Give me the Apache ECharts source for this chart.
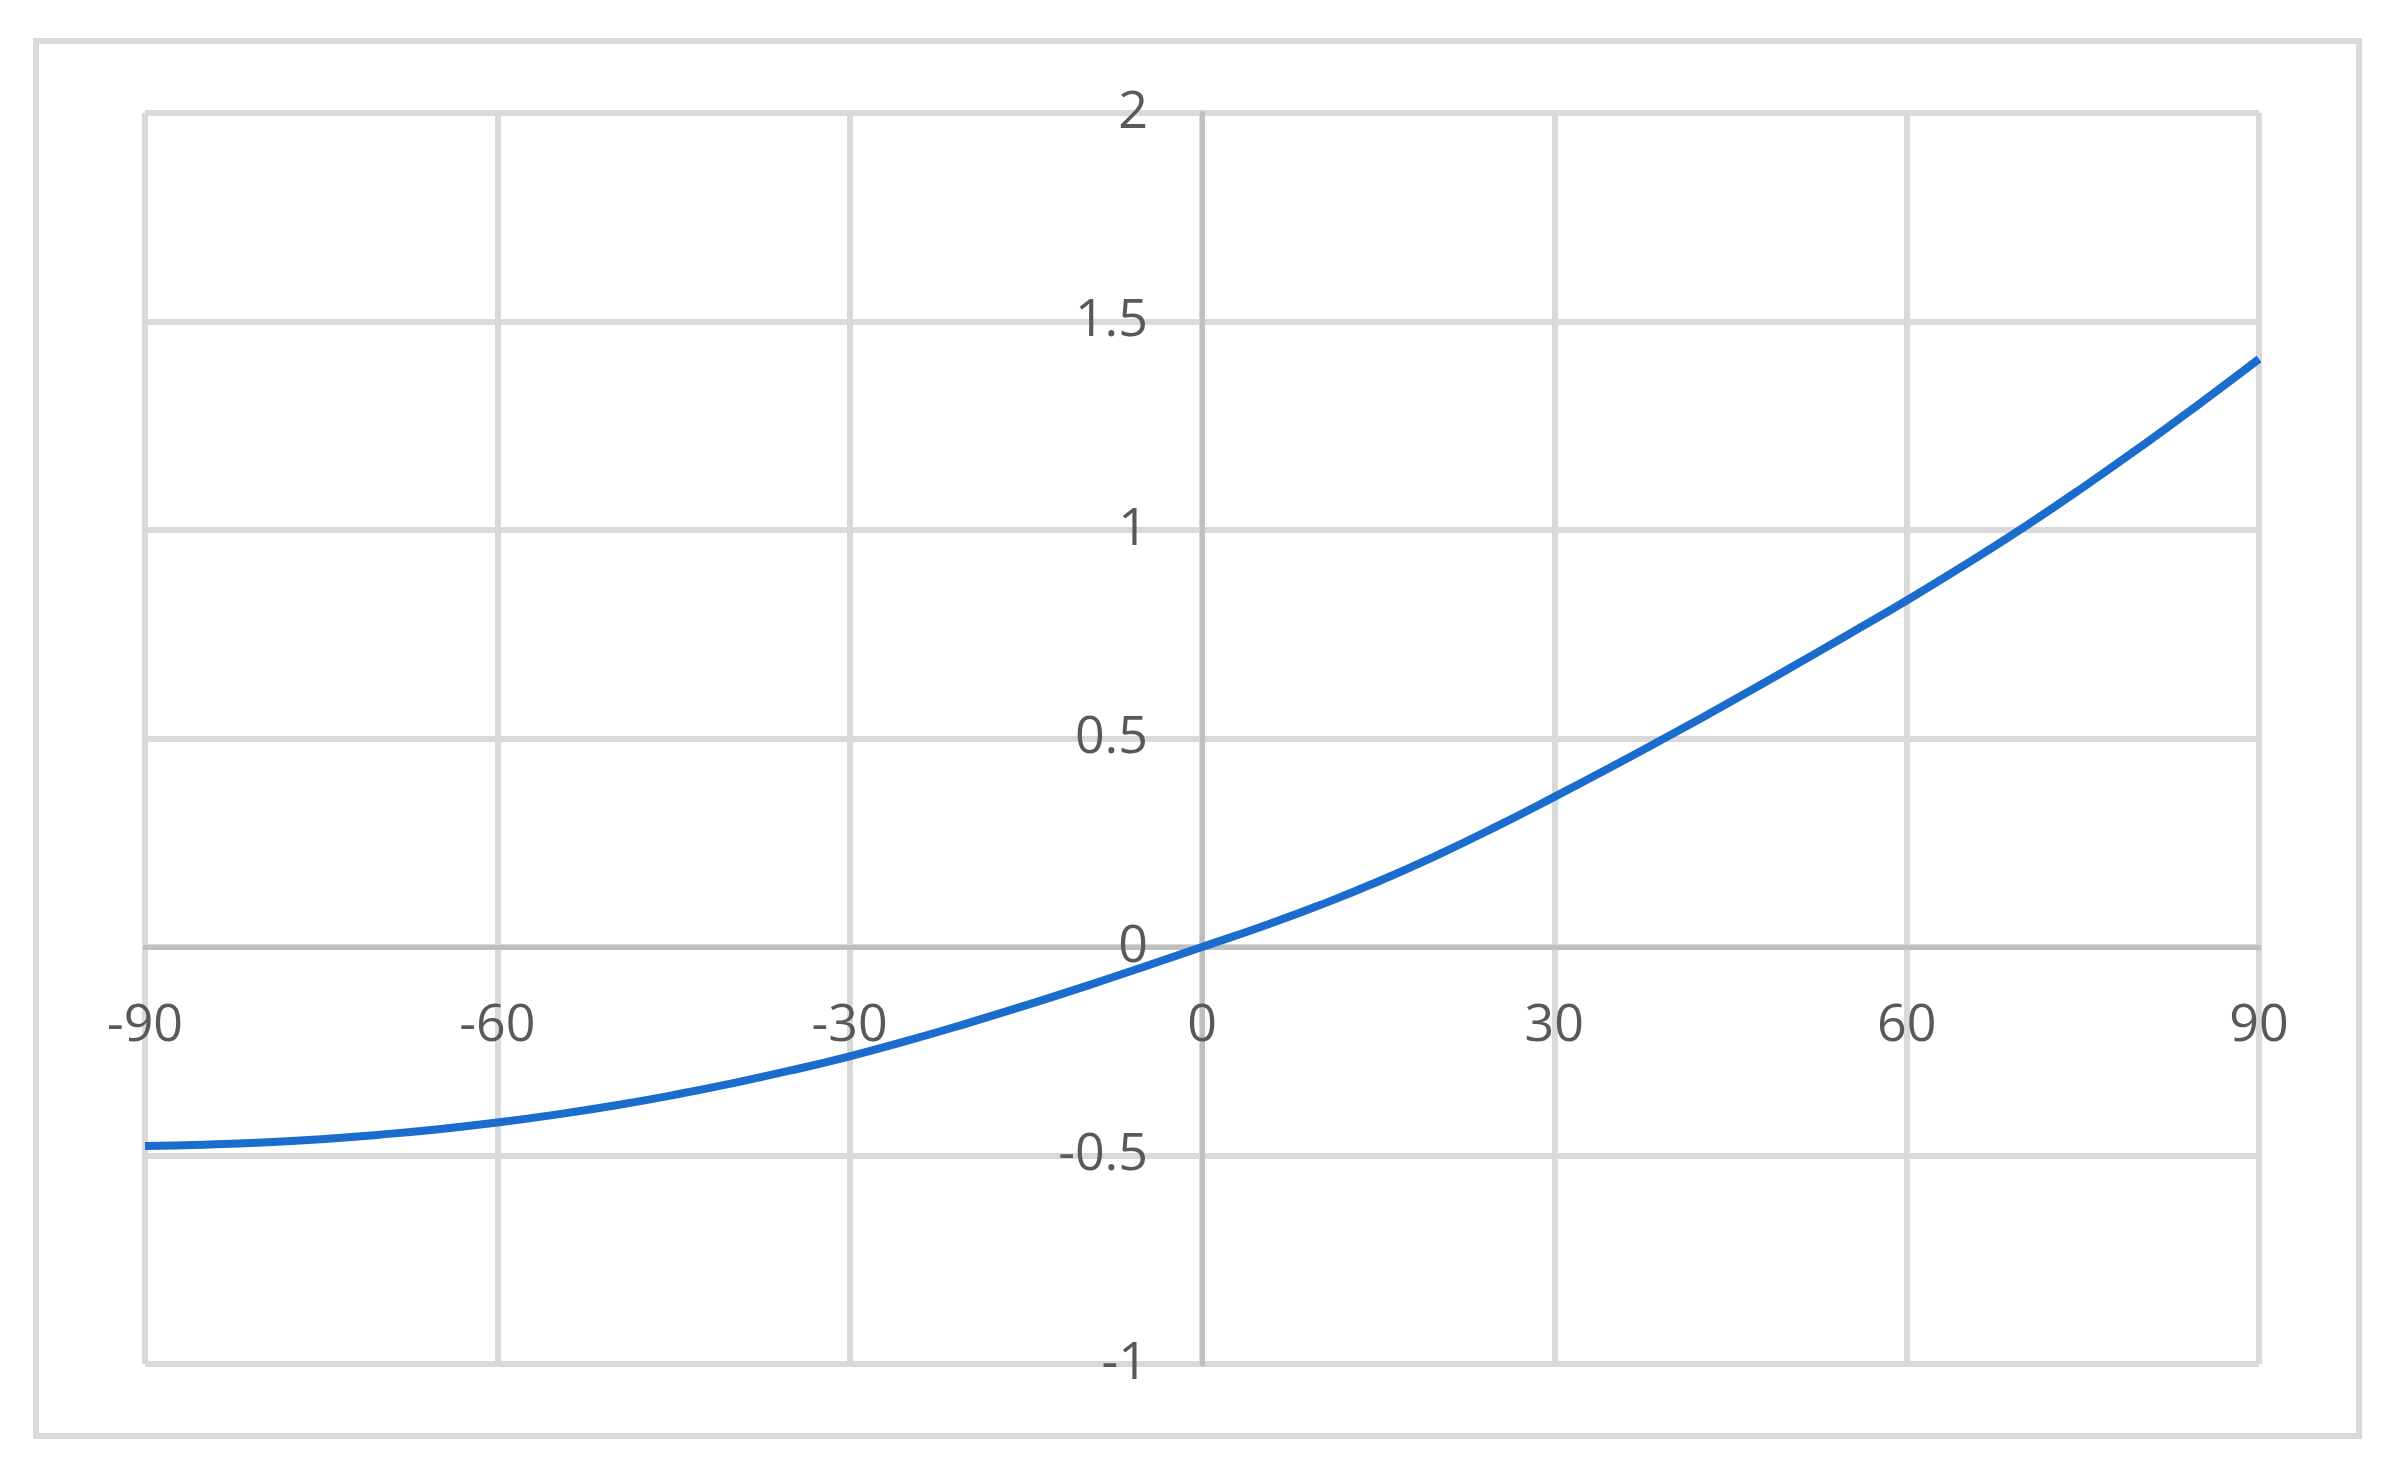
<!DOCTYPE html>
<html>
<head>
<meta charset="utf-8">
<script src="https://cdn.jsdelivr.net/npm/echarts@6/dist/echarts.min.js"></script>
<style>
html,body{margin:0;padding:0;background:#fff;}
#chart{width:2395px;height:1477px;}
</style>
</head>
<body>
<div id="chart"></div>
<script>
const xValues = [-90,-85,-80,-75,-70,-65,-60,-55,-50,-45,-40,-35,-30,-25,-20,-15,-10,-5,0,5,10,15,20,25,30,35,40,45,50,55,60,65,70,75,80,85,90];
const yValues = [-0.477,-0.474,-0.469,-0.461,-0.450,-0.437,-0.421,-0.402,-0.380,-0.355,-0.327,-0.296,-0.262,-0.224,-0.183,-0.140,-0.095,-0.048,0,0.048,0.100,0.157,0.220,0.288,0.360,0.434,0.510,0.588,0.668,0.749,0.831,0.917,1.007,1.102,1.201,1.304,1.410];
const xTicks = [-90,-60,-30,0,30,60,90];
const yTicks = [-1,-0.5,0,0.5,1,1.5,2];

const W = 2395, H = 1477;
const G = {left:145, right:136, top:113, bottom:113};
const plotW = W - G.left - G.right, plotH = H - G.top - G.bottom;
const xMin = xTicks[0], xMax = xTicks[xTicks.length-1];
const yMin = yTicks[0], yMax = yTicks[yTicks.length-1];
// place the axes (line + labels) at the zero crossing of the other axis
const xAxisOffset = -plotH * (0 - yMin) / (yMax - yMin);
const yAxisOffset = -plotW * (0 - xMin) / (xMax - xMin);

const chart = echarts.init(document.getElementById('chart'), null, {renderer:'canvas'});
const labelFont = {fontFamily:'Open Sans', fontSize:52, color:'#595959'};
chart.setOption({
  animation:false,
  backgroundColor:'#ffffff',
  graphic:[{
    type:'rect', shape:{x:36,y:41,width:2323,height:1395},
    style:{fill:null, stroke:'#d9d9d9', lineWidth:6}, z:-1
  }],
  grid:{left:G.left,right:G.right,top:G.top,bottom:G.bottom,containLabel:false},
  xAxis:{
    type:'value', min:xMin, max:xMax, interval:30, position:'bottom', offset:xAxisOffset,
    axisLine:{show:true,onZero:false,lineStyle:{color:'#bfbfbf',width:5}},
    axisTick:{show:false},
    axisLabel:Object.assign({margin:53, formatter:v=>String(v)}, labelFont),
    splitLine:{show:true,lineStyle:{color:'#d9d9d9',width:6}}
  },
  yAxis:{
    type:'value', min:yMin, max:yMax, interval:0.5, position:'left', offset:yAxisOffset,
    axisLine:{show:true,onZero:false,lineStyle:{color:'#bfbfbf',width:5}},
    axisTick:{show:false},
    axisLabel:Object.assign({margin:54, formatter:v=>String(v)}, labelFont),
    splitLine:{show:true,lineStyle:{color:'#d9d9d9',width:6}}
  },
  series:[{
    type:'line', smooth:true, showSymbol:false,
    data:xValues.map((x,i)=>[x,yValues[i]]),
    lineStyle:{color:'#1a6dcc',width:8},
    z:5
  }]
});
</script>
</body>
</html>
